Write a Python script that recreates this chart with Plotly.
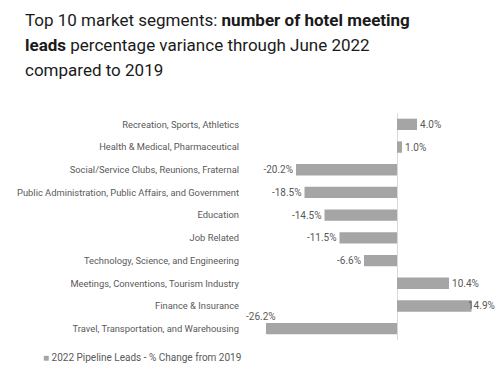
import plotly.graph_objects as go

categories = [
    "Recreation, Sports, Athletics",
    "Health & Medical, Pharmaceutical",
    "Social/Service Clubs, Reunions, Fraternal",
    "Public Administration, Public Affairs, and Government",
    "Education",
    "Job Related",
    "Technology, Science, and Engineering",
    "Meetings, Conventions, Tourism Industry",
    "Finance & Insurance",
    "Travel, Transportation, and Warehousing",
]
values = [4.0, 1.0, -20.2, -18.5, -14.5, -11.5, -6.6, 10.4, 14.9, -26.2]
labels = [f"{v:.1f}%" for v in values]
series_name = "2022 Pipeline Leads - % Change from 2019"
title_lines = [
    "Top 10 market segments: <b>number of hotel meeting</b>",
    "<b>leads</b> percentage variance through June 2022",
    "compared to 2019",
]

FONT = "Roboto, Noto Sans, sans-serif"
GREY_TEXT = "#595959"
BAR = "#a5a5a5"

special = {categories[-1], categories[-2]}

fig = go.Figure()
fig.add_trace(go.Bar(
    x=values, y=categories, orientation="h",
    marker=dict(color=BAR, line=dict(width=0)),
    width=0.5,
    text=[l if c not in special else "" for l, c in zip(labels, categories)],
    textposition="outside", cliponaxis=False, constraintext="none",
    textfont=dict(family=FONT, size=10, color=GREY_TEXT),
    name=series_name, showlegend=False, hoverinfo="skip",
))
# Travel label sits above its bar
fig.add_annotation(x=values[-1], y=categories[-1], text=labels[-1],
                   xanchor="right", yanchor="middle", xshift=12, yshift=12, showarrow=False,
                   font=dict(family=FONT, size=10, color=GREY_TEXT))
# Finance label overlaps its bar end
fig.add_annotation(x=values[-2], y=categories[-2], text=labels[-2],
                   xanchor="left", yanchor="middle", xshift=-6, showarrow=False,
                   font=dict(family=FONT, size=10, color=GREY_TEXT))

# Title lines
for line, yp in zip(title_lines, [1.4097, 1.2996, 1.1894]):
    fig.add_annotation(
        xref="paper", yref="paper", x=-0.933, y=yp, xanchor="left", yanchor="middle",
        align="left", showarrow=False, text=line,
        font=dict(family=FONT, size=17, color="#1a1a1a"),
    )
# Legend
fig.add_annotation(
    xref="paper", yref="paper", x=-0.86, y=-0.075, xanchor="left", yanchor="middle",
    showarrow=False,
    text=f"<span style='color:{BAR}'>■</span> {series_name}",
    font=dict(family=FONT, size=10, color=GREY_TEXT),
)

fig.update_layout(
    width=500, height=373,
    margin=dict(l=247, r=13, t=113, b=33, autoexpand=False),
    paper_bgcolor="white", plot_bgcolor="white",
    xaxis=dict(range=[-30, 18], showgrid=False, showticklabels=False, automargin=False,
               zeroline=True, zerolinecolor="#d9d9d9", zerolinewidth=1, fixedrange=True),
    yaxis=dict(categoryorder="array", categoryarray=categories,
               range=[len(categories) - 0.5, -0.5], fixedrange=True,
               showgrid=False, ticks="", ticklabelstandoff=7, automargin=False,
               tickfont=dict(family=FONT, size=9.35, color=GREY_TEXT)),
    showlegend=False,
    bargap=0.5,
)

fig.write_html("out.html", config={"displayModeBar": False},
               post_script="document.body.style.margin='0';")
